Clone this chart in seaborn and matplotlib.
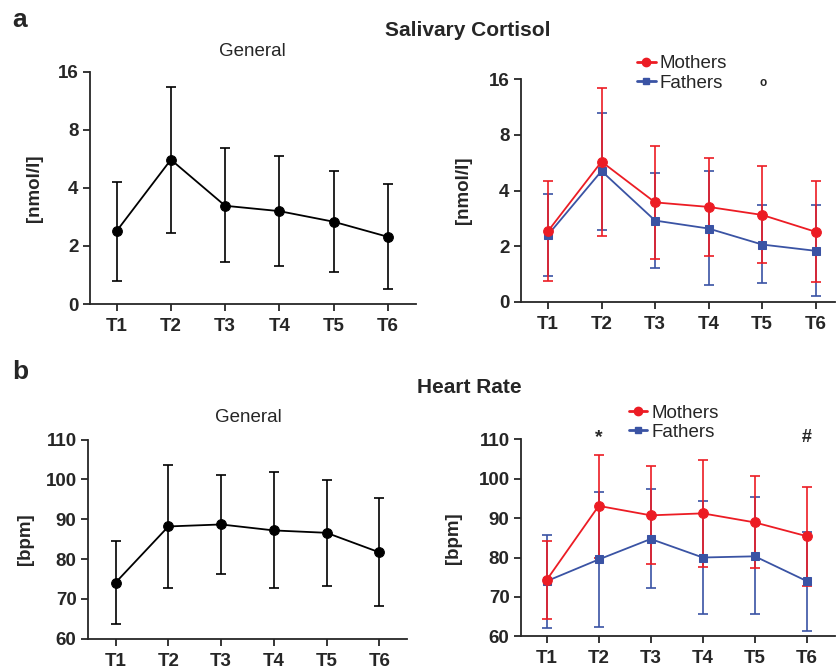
import numpy as np
import pandas as pd
import matplotlib
matplotlib.use("Agg")
import matplotlib.pyplot as plt
import seaborn as sns
from matplotlib.lines import Line2D

# ---- data ----
timepoints = ["T1", "T2", "T3", "T4", "T5", "T6"]

cort_all_mean = [2.39, 5.6, 3.23, 3.03, 2.67, 2.23]
cort_all_low = [0.80, 2.33, 1.44, 1.32, 1.10, 0.53]
cort_all_high = [4.3, 13.4, 6.4, 5.84, 4.88, 4.18]

cort_mom_mean = [2.41, 5.73, 3.45, 3.26, 2.95, 2.39]
cort_mom_low = [0.76, 2.28, 1.55, 1.64, 1.38, 0.71]
cort_mom_high = [4.49, 14.4, 6.97, 6.02, 5.43, 4.5]

cort_dad_mean = [2.30, 5.10, 2.75, 2.49, 2.04, 1.83]
cort_dad_low = [0.94, 2.46, 1.21, 0.60, 0.68, 0.20]
cort_dad_high = [3.83, 10.5, 4.99, 5.13, 3.35, 3.33]

hr_all_mean = [74.1, 88.2, 88.7, 87.2, 86.6, 81.7]
hr_all_low = [63.8, 72.7, 76.3, 72.7, 73.2, 68.1]
hr_all_high = [84.5, 103.7, 101.1, 101.8, 99.9, 95.3]

hr_mom_mean = [74.3, 93.1, 90.7, 91.2, 88.9, 85.4]
hr_mom_low = [64.3, 79.8, 78.3, 77.6, 77.3, 72.8]
hr_mom_high = [84.3, 105.9, 103.1, 104.8, 100.6, 97.9]

hr_dad_mean = [74.0, 79.5, 84.7, 80.0, 80.3, 74.0]
hr_dad_low = [62.2, 62.4, 72.3, 65.7, 65.6, 61.3]
hr_dad_high = [85.8, 96.6, 97.4, 94.3, 95.3, 86.5]

cort_ticks = [0, 2, 4, 8, 16]
hr_ticks = [60, 70, 80, 90, 100, 110]

RED = "#ec1c24"
BLUE = "#3a53a4"
BLACK = "#000000"

sns.set_style("ticks")
plt.rcParams["font.family"] = ["Liberation Sans", "DejaVu Sans"]
plt.rcParams["axes.linewidth"] = 1.3
plt.rcParams["xtick.major.width"] = 1.3
plt.rcParams["ytick.major.width"] = 1.3
plt.rcParams["xtick.major.size"] = 5
plt.rcParams["ytick.major.size"] = 5

TICK_FS = 13.5


def fwd(x):
    x = np.asarray(x, dtype=float)
    return np.where(x < 2, x / 2, np.log2(np.maximum(x, 2)))


def inv(y):
    y = np.asarray(y, dtype=float)
    return np.where(y < 1, y * 2, 2 ** np.maximum(y, 1))


def draw_series(ax, mean, low, high, color, marker, ms):
    df = pd.DataFrame({"x": range(1, len(timepoints) + 1), "y": mean})
    mean = np.array(mean)
    yerr = [mean - np.array(low), np.array(high) - mean]
    ax.errorbar(df["x"], df["y"], yerr=yerr, fmt="none", ecolor=color,
                elinewidth=1.2, capsize=3.5, capthick=1.2, zorder=2)
    sns.lineplot(data=df, x="x", y="y", ax=ax, color=color, marker=marker,
                 markersize=ms, markeredgecolor=color, linewidth=1.3, zorder=3)


def style_axis(ax, ylab, xlim, label_x):
    sns.despine(ax=ax)
    ax.set_xlim(*xlim)
    ax.set_xticks(range(1, len(timepoints) + 1))
    ax.set_xticklabels(timepoints)
    ax.set_xlabel("")
    ax.set_ylabel(ylab, fontsize=TICK_FS, fontweight="bold")
    ax.yaxis.set_label_coords(label_x, 0.5)
    for lab in ax.get_xticklabels() + ax.get_yticklabels():
        lab.set_fontweight("bold")
        lab.set_fontsize(TICK_FS)
    ax.tick_params(axis="x", pad=5)
    ax.tick_params(axis="y", pad=3)


fig = plt.figure(figsize=(8.36, 6.72), dpi=100)

ax1 = fig.add_axes([0.1071, 0.5476, 0.3906, 0.3457])
ax2 = fig.add_axes([0.6228, 0.5510, 0.3760, 0.3310])
ax3 = fig.add_axes([0.1049, 0.0496, 0.3816, 0.2961])
ax4 = fig.add_axes([0.6228, 0.0531, 0.3760, 0.2932])

for ax in (ax1, ax2):
    ax.set_yscale("function", functions=(fwd, inv))
    ax.set_ylim(0, 16)
    ax.set_yticks(cort_ticks)
    ax.set_yticklabels([str(t) for t in cort_ticks])
    ax.minorticks_off()

for ax in (ax3, ax4):
    ax.set_ylim(60, 110)
    ax.set_yticks(hr_ticks)

# cortisol
draw_series(ax1, cort_all_mean, cort_all_low, cort_all_high, BLACK, "o", 7)
draw_series(ax2, cort_dad_mean, cort_dad_low, cort_dad_high, BLUE, "s", 6)
draw_series(ax2, cort_mom_mean, cort_mom_low, cort_mom_high, RED, "o", 7)

# heart rate
draw_series(ax3, hr_all_mean, hr_all_low, hr_all_high, BLACK, "o", 7)
draw_series(ax4, hr_dad_mean, hr_dad_low, hr_dad_high, BLUE, "s", 6)
draw_series(ax4, hr_mom_mean, hr_mom_low, hr_mom_high, RED, "o", 7)

style_axis(ax1, "[nmol/l]", (0.5, 6.52), -0.142)
style_axis(ax2, "[nmol/l]", (0.49, 6.36), -0.154)
style_axis(ax3, "[bpm]", (0.47, 6.52), -0.168)
style_axis(ax4, "[bpm]", (0.5, 6.54), -0.186)

for ax in (ax1, ax2):
    ax.set_ylim(0, 16)
for ax in (ax3, ax4):
    ax.set_ylim(60, 110)

handles = [
    Line2D([], [], color=RED, marker="o", markersize=6, linewidth=2),
    Line2D([], [], color=BLUE, marker="s", markersize=5, linewidth=2),
]
for ax, anchor in ((ax2, (0.762, 0.918)), (ax4, (0.752, 0.398))):
    ax.legend(handles, ["Mothers", "Fathers"], loc="upper left",
              bbox_to_anchor=anchor, bbox_transform=fig.transFigure,
              frameon=False, handlelength=1.0, handletextpad=0.22,
              labelspacing=0.12, borderpad=0, borderaxespad=0,
              prop={"size": 13.5})

# significance marks
ax4.text(2, 110.4, "*", ha="center", va="center", fontsize=14,
         fontweight="bold", clip_on=False)
ax4.text(6, 110.4, "#", ha="center", va="center", fontsize=13,
         fontweight="bold", clip_on=False)
fig.text(0.913, 0.877, "o", ha="center", va="center", fontsize=8.5,
         fontweight="bold")

# panel titles
fig.text(0.015, 0.970, "a", fontsize=19, fontweight="bold", va="center")
fig.text(0.015, 0.446, "b", fontsize=19, fontweight="bold", va="center")
fig.text(0.560, 0.955, "Salivary Cortisol", ha="center", va="center",
         fontsize=15, fontweight="bold")
fig.text(0.561, 0.424, "Heart Rate", ha="center", va="center",
         fontsize=15, fontweight="bold")
fig.text(0.302, 0.923, "General", ha="center", va="center", fontsize=13.5)
fig.text(0.297, 0.378, "General", ha="center", va="center", fontsize=13.5)

fig.savefig("out.png", dpi=100)
